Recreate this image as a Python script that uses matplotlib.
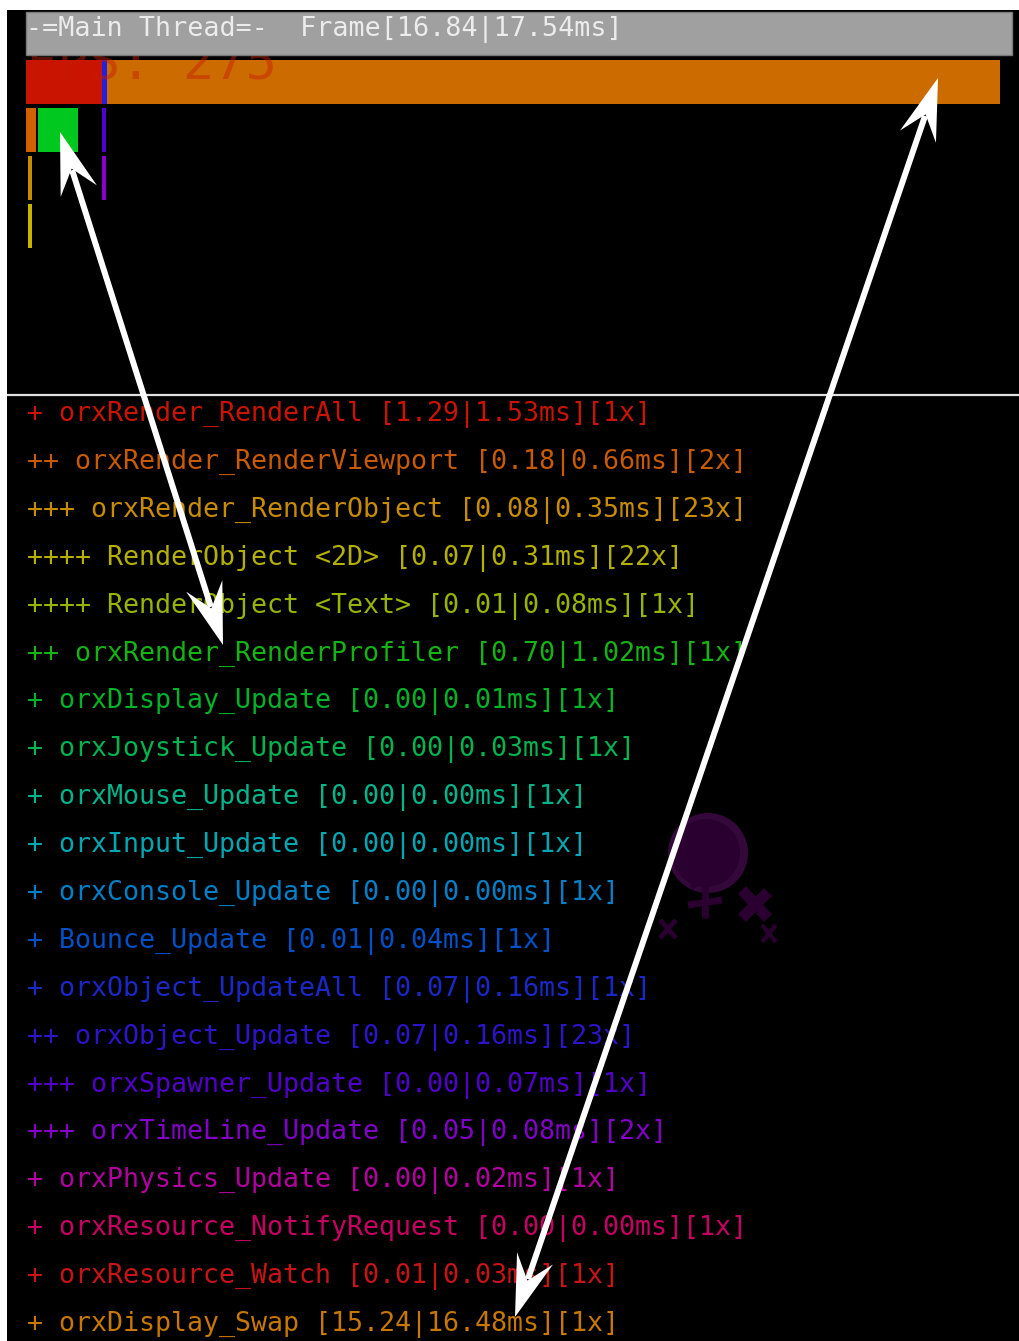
import matplotlib
matplotlib.use("Agg")
import matplotlib.pyplot as plt
import numpy as np
from matplotlib.patches import Rectangle, Polygon, Circle

# ---------------- data ----------------
labels = ["orxRender_RenderAll", "orxRender_RenderViewport", "orxRender_RenderObject",
          "RenderObject <2D>", "RenderObject <Text>", "orxRender_RenderProfiler",
          "orxDisplay_Update", "orxJoystick_Update", "orxMouse_Update", "orxInput_Update",
          "orxConsole_Update", "Bounce_Update", "orxObject_UpdateAll", "orxObject_Update",
          "orxSpawner_Update", "orxTimeLine_Update", "orxPhysics_Update",
          "orxResource_NotifyRequest", "orxResource_Watch", "orxDisplay_Swap"]
depths = [1, 2, 3, 4, 4, 2, 1, 1, 1, 1, 1, 1, 1, 2, 3, 3, 1, 1, 1, 1]
avg_ms = [1.29, 0.18, 0.08, 0.07, 0.01, 0.70, 0.00, 0.00, 0.00, 0.00,
          0.00, 0.01, 0.07, 0.07, 0.00, 0.05, 0.00, 0.00, 0.01, 15.24]
max_ms = [1.53, 0.66, 0.35, 0.31, 0.08, 1.02, 0.01, 0.03, 0.00, 0.00,
          0.00, 0.04, 0.16, 0.16, 0.07, 0.08, 0.02, 0.00, 0.03, 16.48]
counts = [1, 2, 23, 22, 1, 1, 1, 1, 1, 1, 1, 1, 1, 23, 1, 2, 1, 1, 1, 1]
colors = ["#c81400", "#c85a00", "#c88c00", "#b4b000", "#96b400", "#14b414",
          "#00b428", "#00b450", "#00b48c", "#00a8b4", "#0080c8", "#0050c8",
          "#1a28c8", "#2c14c8", "#5000c8", "#8200c8", "#b400a0", "#c80064",
          "#c81414", "#c87800"]

header_title = "-=Main Thread=-"
frame_avg, frame_max = 16.84, 17.54
fps_value = 275

# timeline bars (index into labels, row, start ms, duration ms)
bar_label = [0, 12, 19, 1, 5, 13, 2, 15, 3]
bar_row = [0, 0, 0, 1, 1, 1, 2, 2, 3]
bar_start = [0.00, 1.37, 1.46, 0.00, 0.22, 1.37, 0.04, 1.37, 0.04]
bar_dur = [1.37, 0.09, 16.08, 0.18, 0.72, 0.07, 0.07, 0.07, 0.07]
bar_colors = ["#c81400", "#2020e0", "#cc6c00", "#d06000", "#00c81e",
              "#5000d0", "#c88c00", "#8c00d0", "#c8b400"]

# annotation arrows (pixel coordinates of both tips)
arrows = [((60, 132), (223, 645)), ((938, 78), (515, 1317))]

# ---------------- figure ----------------
W, H = 1019, 1341
fig = plt.figure(figsize=(W / 100, H / 100), dpi=100, facecolor="white")

ax_bg = fig.add_axes([0, 0, 1, 1], zorder=0)
ax_bg.set_xlim(0, W); ax_bg.set_ylim(H, 0); ax_bg.axis("off")
ax_bg.add_patch(Rectangle((7, 10), W - 7, H - 10, color="black", lw=0))
ax_bg.plot([7, W], [395, 395], color="#e0e0e0", lw=1.6, solid_capstyle="butt")

# purple sprite in background
ax_bg.add_patch(Circle((708, 853), 40, color="#34083a", lw=0))
ax_bg.add_patch(Circle((706, 853), 34, color="#2a0030", lw=0))
sprite_col = "#2a0030"
for (x0, y0, x1, y1, lw) in [(705, 885, 705, 918, 5), (688, 905, 722, 900, 5),
                             (742, 890, 768, 918, 8), (768, 892, 742, 918, 8),
                             (660, 920, 676, 938, 3.5), (676, 920, 660, 938, 3.5),
                             (762, 925, 776, 942, 3), (776, 925, 762, 942, 3),
                             (692, 888, 700, 878, 4)]:
    ax_bg.plot([x0, x1], [y0, y1], color=sprite_col, lw=lw, solid_capstyle="butt")

# timeline bars in ms scale
ax_bar = fig.add_axes([26 / W, 1 - 252 / H, (1000 - 26) / W, (252 - 60) / H], zorder=1)
ax_bar.set_xlim(0, frame_max)
ax_bar.set_ylim(4, 0)
ax_bar.axis("off")
ax_bar.patch.set_alpha(0)
ax_bar.barh(np.array(bar_row) + 0.46, bar_dur, left=bar_start, height=0.92,
            color=bar_colors, linewidth=0)

# overlay in pixel coords
ax = fig.add_axes([0, 0, 1, 1], zorder=2)
ax.set_xlim(0, W); ax.set_ylim(H, 0); ax.axis("off")
ax.patch.set_alpha(0)

mono = "DejaVu Sans Mono"
# FPS text partly hidden under header
ax.text(26, 79, f"FPS: {fps_value}", color="#c81c00", alpha=0.45, fontsize=37.5,
        family=mono, va="baseline", ha="left", zorder=1)
ax.add_patch(Rectangle((26, 12), 986, 43, facecolor="#a0a0a0", edgecolor="#7a7a7a",
                       lw=1, zorder=2))
ax.text(26, 36, f"{header_title}  Frame[{frame_avg:.2f}|{frame_max:.2f}ms]",
        color="#ececec", fontsize=19.3, family=mono, va="baseline", ha="left", zorder=3)

row_y0, row_dy = 421, 47.9
for i, (lab, d, a, m, c, col) in enumerate(zip(labels, depths, avg_ms, max_ms, counts, colors)):
    s = f"{'+' * d} {lab} [{a:.2f}|{m:.2f}ms][{c}x]"
    ax.text(27, row_y0 + i * row_dy, s, color=col, fontsize=19.15, family=mono,
            va="baseline", ha="left", zorder=3)

# arrows with notched heads on both ends
def head(tip, other, L=62, hw=19, notch=0.62):
    tip = np.array(tip, float); other = np.array(other, float)
    u = (other - tip) / np.linalg.norm(other - tip)
    p = np.array([-u[1], u[0]])
    back = tip + u * L
    return [tip, back + p * hw, tip + u * L * notch, back - p * hw]

for a, b in arrows:
    a = np.array(a, float); b = np.array(b, float)
    u = (b - a) / np.linalg.norm(b - a)
    s0 = a + u * 40; s1 = b - u * 40
    ax.plot([s0[0], s1[0]], [s0[1], s1[1]], color="white", lw=4.3,
            solid_capstyle="butt", zorder=5)
    ax.add_patch(Polygon(head(a, b), closed=True, color="white", lw=0, zorder=6))
    ax.add_patch(Polygon(head(b, a), closed=True, color="white", lw=0, zorder=6))

fig.savefig("out.png", dpi=100, facecolor="white")
